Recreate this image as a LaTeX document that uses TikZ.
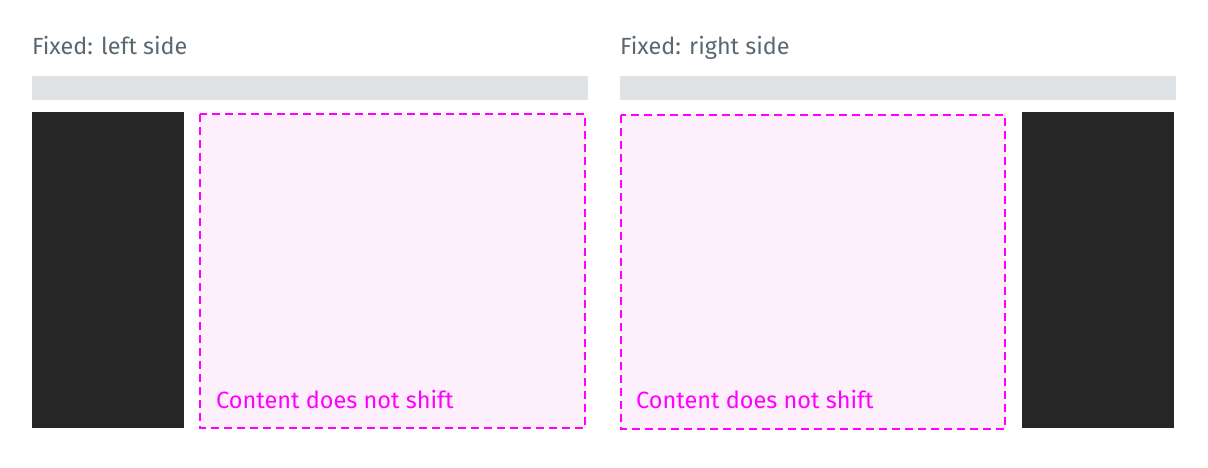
\documentclass[tikz,border=0pt]{standalone}
\usepackage{fontspec}
\setmainfont{Fira Sans}
\definecolor{titlegray}{HTML}{5A6872}
\definecolor{bargray}{HTML}{DFE3E6}
\definecolor{panel}{HTML}{262626}
\definecolor{magenta}{HTML}{FF00FF}
\definecolor{pink}{HTML}{FDF0FC}
\begin{document}
\begin{tikzpicture}[x=1pt,y=-1pt,
    title/.style={anchor=base west,inner sep=0pt,text=titlegray,font=\fontsize{23.4}{28}\selectfont},
    note/.style={anchor=base west,inner sep=0pt,text=magenta,font=\fontsize{23.5}{28}\selectfont},
    bar/.style={fill=bargray},
    side/.style={fill=panel},
    content/.style={fill=pink,draw=magenta,line width=1.8pt,dash pattern=on 8pt off 5pt}]
  \useasboundingbox (0,0) rectangle (1208,468);
  % left side fixed
  \node[title] (lefttitle) at (32,55) {Fixed: left side};
  \fill[bar] (32,76) rectangle (588,100);
  \fill[side] (32,112) rectangle (184,428);
  \draw[content] (200,114) rectangle (585,428);
  \node[note] (leftnote) at (216,408) {Content does not shift};
  % right side fixed
  \node[title] (righttitle) at (620,55) {Fixed: right side};
  \fill[bar] (620,76) rectangle (1176,100);
  \draw[content] (621,115) rectangle (1005,429);
  \fill[side] (1022,112) rectangle (1174,428);
  \node[note] (rightnote) at (636,408) {Content does not shift};
\end{tikzpicture}
\end{document}
